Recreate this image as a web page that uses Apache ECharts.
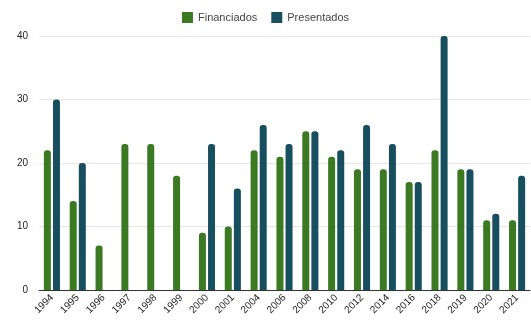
<!DOCTYPE html>
<html>
<head>
<meta charset="utf-8">
<script src="https://cdn.jsdelivr.net/npm/echarts@6/dist/echarts.min.js"></script>
<style>
html, body { margin: 0; padding: 0; background: #fff; }
#chart { width: 531px; height: 320px; }
</style>
</head>
<body>
<div id="chart"></div>
<script>
var years = ['1994', '1995', '1996', '1997', '1998', '1999', '2000', '2001', '2004', '2006',
    '2008', '2010', '2012', '2014', '2016', '2018', '2019', '2020', '2021'];
var financiados = [22, 14, 7, 23, 23, 18, 9, 10, 22, 21, 25, 21, 19, 19, 17, 22, 19, 11, 11];
var presentados = [30, 20, null, null, null, null, 23, 16, 26, 23, 25, 22, 26, 23, 17, 40, 19, 12, 18];

var myChart = echarts.init(document.getElementById('chart'));

var option = {
    backgroundColor: '#ffffff',
    animation: false,
    legend: {
        top: 7,
        left: 'center',
        itemWidth: 11,
        itemHeight: 11,
        itemGap: 14,
        icon: 'rect',
        textStyle: { color: '#444', fontSize: 11, fontFamily: 'Liberation Sans, Arial, sans-serif' },
        data: ['Financiados', 'Presentados']
    },
    grid: {
        left: 39,
        right: 1,
        top: 36,
        bottom: 30,
        containLabel: false
    },
    xAxis: {
        type: 'category',
        data: years,
        axisTick: { show: false },
        axisLine: { lineStyle: { color: '#333', width: 1 } },
        axisLabel: {
            interval: 0,
            rotate: 45,
            color: '#222',
            fontSize: 10,
            margin: 6,
            fontFamily: 'Liberation Sans, Arial, sans-serif'
        }
    },
    yAxis: {
        type: 'value',
        min: 0,
        max: 40,
        interval: 10,
        axisLine: { show: false },
        axisTick: { show: false },
        splitLine: { lineStyle: { color: '#e6e6e6', width: 1 } },
        axisLabel: {
            color: '#222',
            fontSize: 10,
            margin: 11,
            fontFamily: 'Liberation Sans, Arial, sans-serif'
        }
    },
    series: [{
        name: 'Financiados',
        type: 'bar',
        data: financiados,
        barWidth: 7,
        barGap: '30%',
        itemStyle: { color: '#3b7a22', borderRadius: [3, 3, 0, 0] }
    }, {
        name: 'Presentados',
        type: 'bar',
        data: presentados,
        barWidth: 7,
        itemStyle: { color: '#174f5f', borderRadius: [3, 3, 0, 0] }
    }]
};

myChart.setOption(option);
</script>
</body>
</html>
